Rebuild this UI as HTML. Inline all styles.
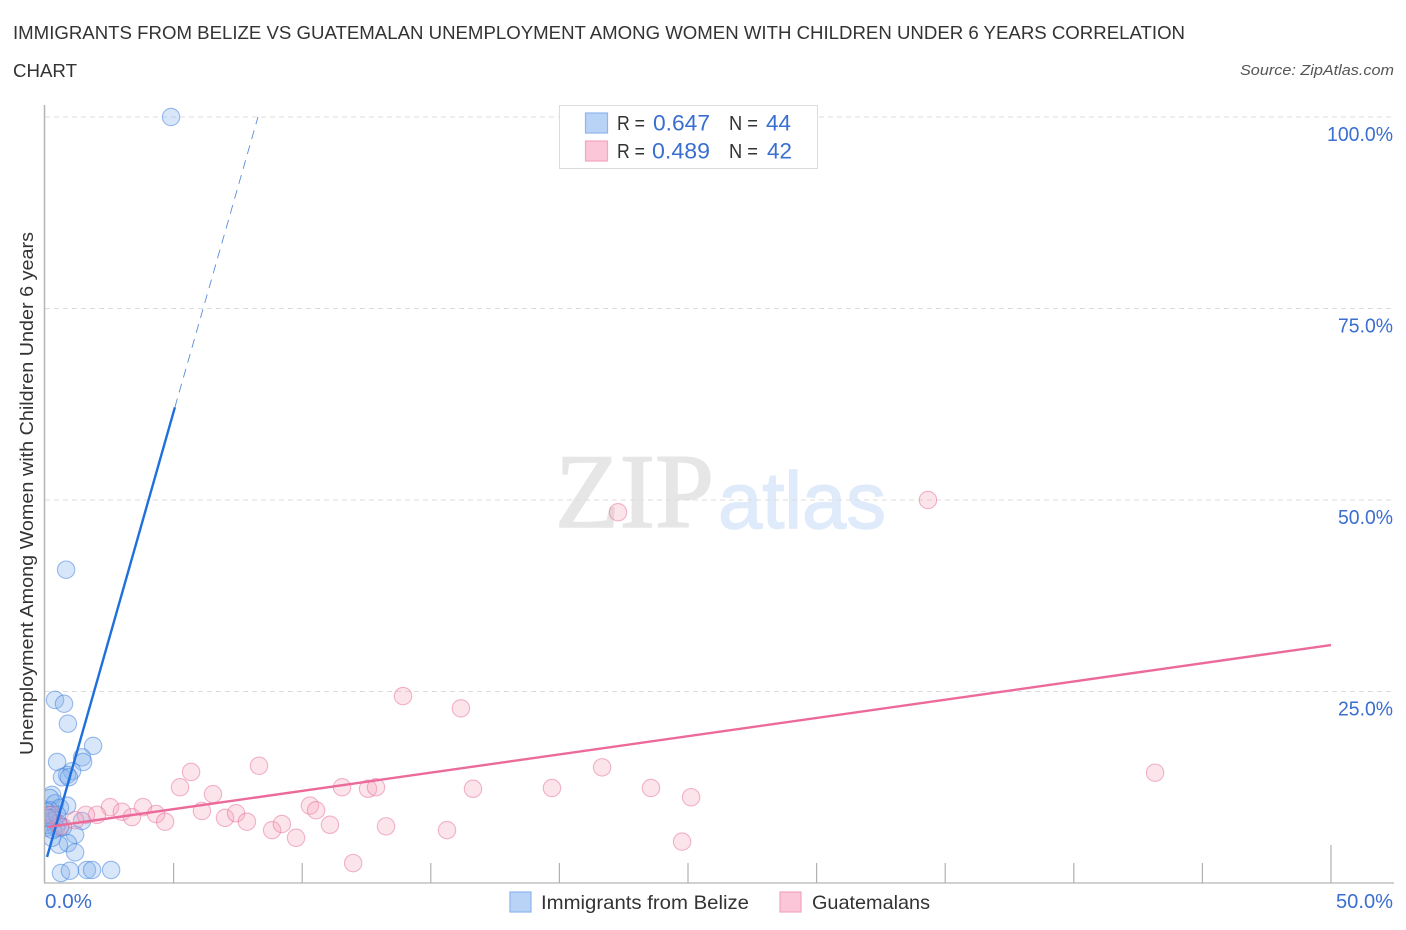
<!DOCTYPE html>
<html lang="en">
<head>
<meta charset="utf-8">
<title>Immigrants from Belize vs Guatemalan Unemployment Chart</title>
<style>
html,body{margin:0;padding:0;background:#fff}
svg{display:block}
text{font-family:"Liberation Sans",sans-serif}
</style>
</head>
<body>
<svg id="chart" width="1406" height="930" viewBox="0 0 1406 930" xmlns="http://www.w3.org/2000/svg">
  <defs>
    <clipPath id="plot-clip"><rect x="45" y="90" width="1349" height="793"/></clipPath>
  </defs>
  <g fill="#333" font-size="18.5">
    <text x="13" y="39" textLength="1172" lengthAdjust="spacingAndGlyphs">IMMIGRANTS FROM BELIZE VS GUATEMALAN UNEMPLOYMENT AMONG WOMEN WITH CHILDREN UNDER 6 YEARS CORRELATION</text>
    <text x="13" y="77" textLength="64" lengthAdjust="spacingAndGlyphs">CHART</text>
  </g>
  <text x="1394" y="75" text-anchor="end" font-size="15" font-style="italic" fill="#555" textLength="154" lengthAdjust="spacingAndGlyphs">Source: ZipAtlas.com</text>
  <g>
    <text x="555" y="527" font-size="106" fill="#e6e6e6" stroke="#e6e6e6" stroke-width="1.6" style="font-family:'Liberation Serif',serif" textLength="159" lengthAdjust="spacingAndGlyphs">ZIP</text>
    <text x="718" y="528" font-size="80" fill="#dfeafa" stroke="#dfeafa" stroke-width="1.4" textLength="168" lengthAdjust="spacingAndGlyphs">atlas</text>
  </g>
  <g id="grid"></g>
  <g id="axes"></g>
  <g id="marks" clip-path="url(#plot-clip)"></g>
  <g id="trends"></g>
  <g id="labels"></g>
  <text transform="translate(33,755) rotate(-90)" font-size="18.5" fill="#333" textLength="523" lengthAdjust="spacingAndGlyphs">Unemployment Among Women with Children Under 6 years</text>
  <g>
    <rect x="559.5" y="105.5" width="258" height="63" fill="#fff" stroke="#dcdcdc" stroke-width="1"/>
    <rect x="585.5" y="113" width="22" height="20" fill="#b9d3f7" stroke="#8fb5ee" stroke-width="1.2"/>
    <rect x="585.5" y="141" width="22" height="20" fill="#fbc6d8" stroke="#f3a6c0" stroke-width="1.2"/>
    <g font-size="20" fill="#333">
      <text x="617" y="130" textLength="28" lengthAdjust="spacingAndGlyphs">R =</text>
      <text x="729" y="130" textLength="29" lengthAdjust="spacingAndGlyphs">N =</text>
      <text x="617" y="158" textLength="28" lengthAdjust="spacingAndGlyphs">R =</text>
      <text x="729" y="158" textLength="29" lengthAdjust="spacingAndGlyphs">N =</text>
    </g>
    <g font-size="22" fill="#3a6fd0">
      <text x="653" y="130.5" textLength="57" lengthAdjust="spacingAndGlyphs">0.647</text>
      <text x="766" y="130.5" textLength="25" lengthAdjust="spacingAndGlyphs">44</text>
      <text x="652" y="158.5" textLength="58" lengthAdjust="spacingAndGlyphs">0.489</text>
      <text x="767" y="158.5" textLength="25" lengthAdjust="spacingAndGlyphs">42</text>
    </g>
  </g>
  <g>
    <g>
      <rect x="510" y="892" width="21" height="20" fill="#b9d3f7" stroke="#8fb5ee" stroke-width="1.2"/>
      <text x="541" y="909" font-size="19.5" fill="#333" textLength="208" lengthAdjust="spacingAndGlyphs">Immigrants from Belize</text>
    </g>
    <g>
      <rect x="780" y="892" width="21" height="20" fill="#fbc6d8" stroke="#f3a6c0" stroke-width="1.2"/>
      <text x="812" y="909" font-size="19.5" fill="#333" textLength="118" lengthAdjust="spacingAndGlyphs">Guatemalans</text>
    </g>
  </g>
</svg>
<script>
const belizeX = [4.90,0.82,0.39,0.74,0.89,1.87,1.44,1.48,0.47,1.05,0.86,0.66,0.93,0.27,0.19,0.39,0.86,0.58,0.19,0.08,0.19,0.27,0.35,0.16,0.51,0.58,0.43,0.04,1.44,1.17,0.89,0.54,1.17,0.62,0.97,1.63,1.83,2.57,0.27,0.08,0.47,0.31,0.70,0.12];
const belizeY = [100,40.9,23.9,23.4,20.8,17.9,16.4,15.8,15.8,14.6,14.1,13.8,13.8,11.5,11.1,10.4,10.1,9.8,9.5,9.3,8.9,8.5,8.2,8.0,7.8,7.3,7.2,7.2,8.1,6.3,5.2,5.0,4.0,1.3,1.6,1.7,1.7,1.7,5.9,7.6,8.9,6.9,7.3,8.5];
const guatemalanX = [22.28,34.33,13.92,16.17,43.16,21.66,8.32,5.68,5.25,6.53,11.55,12.56,12.87,16.64,19.71,23.56,25.12,2.53,2.99,3.38,3.81,4.32,4.67,2.02,1.59,6.10,7.00,7.43,7.85,8.83,9.21,9.76,10.30,10.54,11.08,11.98,13.26,15.63,24.77,1.17,0.58,0.27];
const guatemalanY = [48.4,50,24.4,22.8,14.4,15.1,15.3,14.5,12.5,11.6,12.5,12.3,12.5,12.3,12.4,12.4,11.2,9.9,9.3,8.6,9.9,9.0,8.0,8.9,8.9,9.4,8.5,9.1,8.0,6.9,7.7,5.9,10.1,9.5,7.6,2.6,7.4,6.9,5.4,8.2,7.4,8.9];
const belizeTrendX = [0.08,5.05];
const belizeTrendY = [3.4,62.1];
const belizeDashX = [5.05,8.28];
const belizeDashY = [62.1,100];
const guatemalanTrendX = [0.08,50];
const guatemalanTrendY = [7.3,31.07];
const yTicks = [25,50,75,100];
const yTickLabels = ["25.0%","50.0%","75.0%","100.0%"];
const xTicks = [5,10,15,20,25,30,35,40,45,50];
const xTickLabels = ["0.0%","50.0%"];

const NS = 'http://www.w3.org/2000/svg';
const xAxis = v => 45 + v * 25.72;
const yAxis = v => 883 - v * 7.66;
function make(tag, attrs, parent) {
  const el = document.createElementNS(NS, tag);
  for (const k in attrs) el.setAttribute(k, attrs[k]);
  parent.appendChild(el);
  return el;
}
const grid = document.getElementById('grid');
const axes = document.getElementById('axes');
const marks = document.getElementById('marks');
const trends = document.getElementById('trends');
const labels = document.getElementById('labels');

yTicks.forEach((t, i) => {
  const g = make('line', {x1: 45, x2: 1393, y1: yAxis(t), y2: yAxis(t), stroke: '#dddddd', 'stroke-width': 1, 'stroke-dasharray': '5 4'}, grid);
  
  
  const l = make('text', {x: 1393, y: yAxis(t) + 24, 'text-anchor': 'end', 'font-size': 20, fill: '#3a6fd0', textLength: yTickLabels[i].length * 11, lengthAdjust: 'spacingAndGlyphs'}, labels);
  l.textContent = yTickLabels[i];
  
  
});

const yLine = make('line', {x1: 44.5, x2: 44.5, y1: 105, y2: 883.5, stroke: '#b5b5b5', 'stroke-width': 1.5}, axes);


const xLine = make('line', {x1: 44, x2: 1394, y1: 883, y2: 883, stroke: '#c0c0c0', 'stroke-width': 1.5}, axes);


xTicks.forEach(t => {
  const top = t === 50 ? 845 : 863;
  const k = make('line', {x1: xAxis(t), x2: xAxis(t), y1: top, y2: 883, stroke: '#b0b0b0', 'stroke-width': 1.2}, axes);
  
  
});
const x0 = make('text', {x: 45, y: 908, 'font-size': 20, fill: '#3a6fd0', textLength: 47, lengthAdjust: 'spacingAndGlyphs'}, labels);
x0.textContent = xTickLabels[0];


const x1 = make('text', {x: 1393, y: 908, 'text-anchor': 'end', 'font-size': 20, fill: '#3a6fd0', textLength: 57, lengthAdjust: 'spacingAndGlyphs'}, labels);
x1.textContent = xTickLabels[1];



belizeX.forEach((v, i) => {
  const c = make('circle', {cx: xAxis(v), cy: yAxis(belizeY[i]), r: 8.7, fill: 'rgba(135,180,238,0.33)', stroke: 'rgba(60,125,220,0.5)', 'stroke-width': 1.1}, marks);
  
  
});
guatemalanX.forEach((v, i) => {
  const c = make('circle', {cx: xAxis(v), cy: yAxis(guatemalanY[i]), r: 8.7, fill: 'rgba(245,165,190,0.3)', stroke: 'rgba(230,110,155,0.5)', 'stroke-width': 1.1}, marks);
  
  
});

const t1 = make('line', {x1: xAxis(belizeTrendX[0]), y1: yAxis(belizeTrendY[0]), x2: xAxis(belizeTrendX[1]), y2: yAxis(belizeTrendY[1]), stroke: '#1f6fdc', 'stroke-width': 2.4}, trends);


const t2 = make('line', {x1: xAxis(belizeDashX[0]), y1: yAxis(belizeDashY[0]), x2: xAxis(belizeDashX[1]), y2: yAxis(belizeDashY[1]), stroke: '#5a8cd8', 'stroke-width': 0.9, 'stroke-dasharray': '9 6.5'}, trends);


const t3 = make('line', {x1: xAxis(guatemalanTrendX[0]), y1: yAxis(guatemalanTrendY[0]), x2: xAxis(guatemalanTrendX[1]), y2: yAxis(guatemalanTrendY[1]), stroke: '#ec6a9a', 'stroke-width': 2.4}, trends);


</script>
</body>
</html>
